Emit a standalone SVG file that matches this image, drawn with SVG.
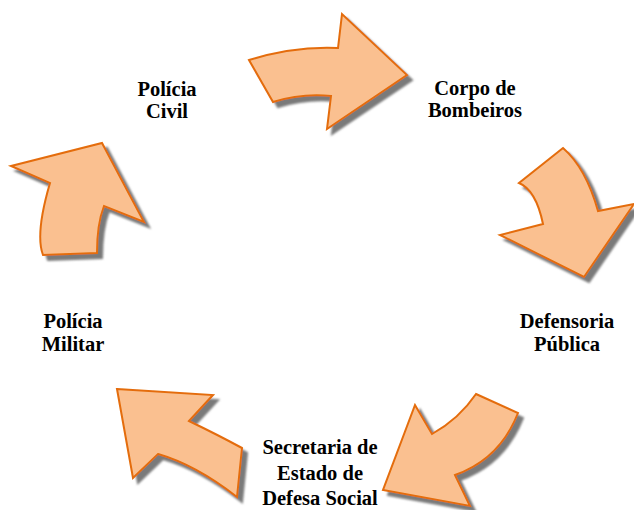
<svg xmlns="http://www.w3.org/2000/svg" width="634" height="510" viewBox="0 0 634 510">
<style>
.lbl{font-family:"Liberation Serif","Tinos","Times New Roman","DejaVu Serif",serif;font-weight:700;font-size:20.5px;fill:#000;text-anchor:middle}
.arr{fill:#FAC090;stroke:#E46C0A;stroke-width:2;stroke-linejoin:miter;filter:url(#sh)}
</style>
<defs>
<filter id="sh" x="-20%" y="-20%" width="140%" height="140%">
<feGaussianBlur in="SourceAlpha" stdDeviation="1.2" result="b"/>
<feOffset in="b" dx="5" dy="5" result="o"/>
<feFlood flood-color="#7a7a7a"/>
<feComposite in2="o" operator="in" result="s"/>
<feMerge><feMergeNode in="s"/><feMergeNode in="SourceGraphic"/></feMerge>
</filter>
</defs>
<rect width="634" height="510" fill="#fff"/>
<g id="connectors">
<path class="arr" d="M249,60 Q294,46 338,48 L342,14 L407,75 L327,129 L331,96 Q302,93 273,102 Z"/>
<path class="arr" d="M563,148 Q586,168 598,211 L634,204 L584,277 L500,235 L543,224 Q536,190 519,183 Z"/>
<path class="arr" d="M476,394 L518,413 Q500,459 455,475 L470,506 L383,490 L415,405 L432,434 Q459,419 476,394 Z"/>
<path class="arr" d="M117,389 L213,395 L189,421 Q218,435 242,448 L237,497 Q196,465 158,454 L133,478 Z"/>
<path class="arr" d="M11,166 L102,143 L144,222 L104,206 Q97,224 97,253 L43,255 Q35,234 50,183 Z"/>
</g>
<g id="policia-civil"><text class="lbl" x="167" y="96">Polícia</text><text class="lbl" x="167" y="118">Civil</text></g>
<g id="corpo-bombeiros"><text class="lbl" x="475" y="95">Corpo de</text><text class="lbl" x="475" y="117">Bombeiros</text></g>
<g id="defensoria"><text class="lbl" x="567" y="328">Defensoria</text><text class="lbl" x="567" y="351">Pública</text></g>
<g id="secretaria"><text class="lbl" x="320" y="454">Secretaria de</text><text class="lbl" x="320" y="480">Estado de</text><text class="lbl" x="320" y="505">Defesa Social</text></g>
<g id="policia-militar"><text class="lbl" x="73" y="328">Polícia</text><text class="lbl" x="73" y="351">Militar</text></g>
</svg>
